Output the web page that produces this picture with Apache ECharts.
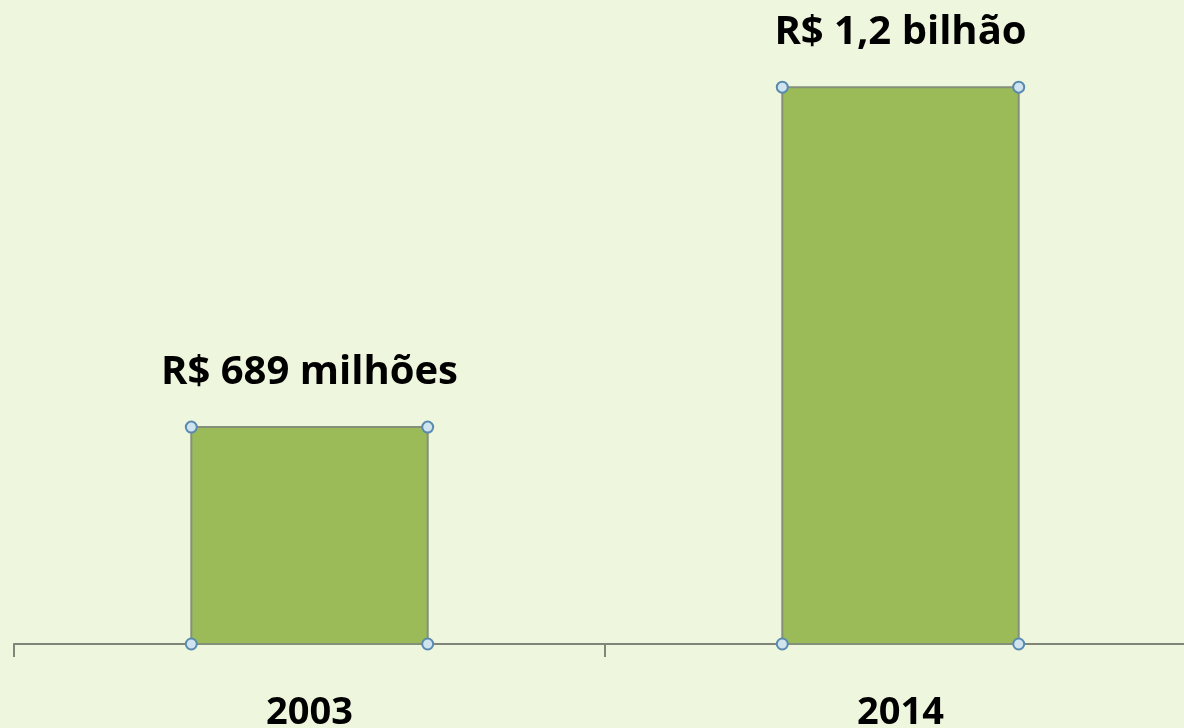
<!DOCTYPE html>
<html>
<head>
<meta charset="utf-8">
<script src="https://cdn.jsdelivr.net/npm/echarts@6/dist/echarts.min.js"></script>
<style>
  html, body { margin: 0; padding: 0; background: #eef6dd; }
  #chart { width: 1184px; height: 728px; }
</style>
</head>
<body>
<div id="chart"></div>
<script>
// dados (valores em milhões de R$)
const anos = ['2003', '2014'];
const valores = [689, 1200];
const rotulos = ['R$ 689 milhões', 'R$ 1,2 bilhão'];

// eixo truncado como no slide original
const yMin = 363;
const yMax = 1331;

const myChart = echarts.init(document.getElementById('chart'));

function renderBar(params, api) {
  const idx = api.value(0);
  const top = api.coord([idx, api.value(1)]);
  const base = api.coord([idx, yMin]);
  const band = api.size([1, 0])[0];
  const w = band * 0.4;
  const x0 = top[0] - w / 2;
  const x1 = top[0] + w / 2;
  const handle = (cx, cy) => ({
    type: 'circle',
    shape: { cx: cx, cy: cy, r: 5.5 },
    style: { fill: '#cfe4ee', stroke: '#5a8ab0', lineWidth: 2 },
    z2: 10,
  });
  return {
    type: 'group',
    children: [
      {
        type: 'rect',
        shape: { x: x0, y: top[1], width: w, height: base[1] - top[1] },
        style: { fill: '#9bbb59', stroke: '#84907a', lineWidth: 2 },
      },
      handle(x0, top[1]),
      handle(x1, top[1]),
      handle(x0, base[1]),
      handle(x1, base[1]),
      {
        type: 'text',
        x: top[0],
        y: top[1] - 55,
        style: {
          text: rotulos[params.dataIndex],
          fill: '#000',
          font: 'bold 40px "Open Sans"',
          align: 'center',
          verticalAlign: 'middle',
        },
        z2: 20,
      },
    ],
  };
}

myChart.setOption({
  backgroundColor: '#eef6dd',
  animation: false,
  grid: {
    left: 14,
    right: -12, // o eixo continua além da borda direita
    top: 0,
    bottom: 84,
    outerBoundsMode: 'none',
  },
  xAxis: {
    type: 'category',
    data: anos,
    boundaryGap: true,
    axisLine: { lineStyle: { color: '#80857a', width: 2 } },
    axisTick: { show: true, length: 13, lineStyle: { color: '#80857a', width: 2 } },
    axisLabel: {
      margin: 50,
      color: '#000',
      fontFamily: 'Open Sans',
      fontWeight: 'bold',
      fontSize: 38,
    },
  },
  yAxis: {
    type: 'value',
    min: yMin,
    max: yMax,
    show: false,
    splitLine: { show: false },
  },
  series: [
    {
      type: 'custom',
      renderItem: renderBar,
      encode: { x: 0, y: 1 },
      data: valores.map((v, i) => [i, v]),
      clip: false,
    },
  ],
});
</script>
</body>
</html>
